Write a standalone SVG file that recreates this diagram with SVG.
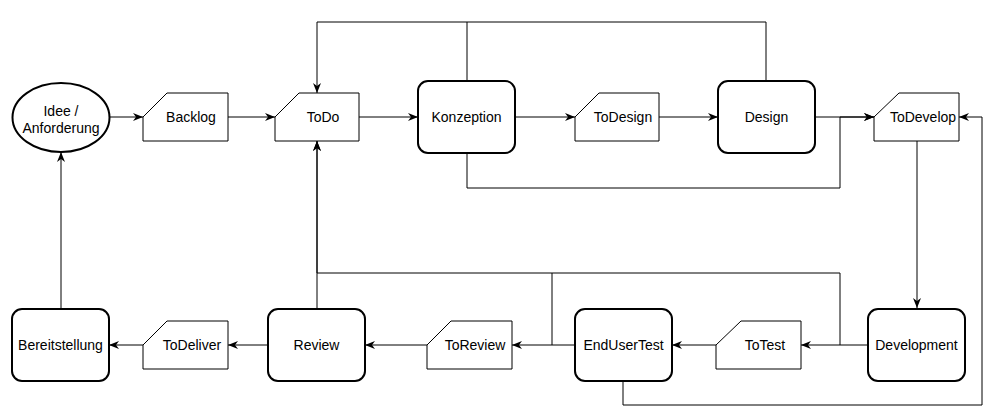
<svg xmlns="http://www.w3.org/2000/svg" width="991" height="413" viewBox="0 0 991 413">
<style>
text{font-family:"Liberation Sans",Arial,Helvetica,sans-serif;font-size:14px;fill:#000;text-anchor:middle}
.proc{fill:#fff;stroke:#000;stroke-width:2}
.card{fill:#fff;stroke:#000;stroke-width:1}
.edge{fill:none;stroke:#000;stroke-width:1}
.arr{marker-end:url(#a)}
</style>
<defs>
<marker id="a" viewBox="0 0 10 8" refX="10" refY="4" markerWidth="10" markerHeight="8" markerUnits="userSpaceOnUse" orient="auto">
<path d="M0,0 L10,4 L0,8 L3,4 z" fill="#000"/>
</marker>
</defs>
<rect width="991" height="413" fill="#fff"/>
<g id="connectors">
<path class="edge arr" d="M109.5,117 H143"/>
<path class="edge arr" d="M228,117 H275"/>
<path class="edge arr" d="M359,117 H418"/>
<path class="edge arr" d="M515,117 H575"/>
<path class="edge arr" d="M659,117 H718"/>
<path class="edge arr" d="M815,117 H874"/>
<path class="edge arr" d="M467,153 V188 H840 V117 H874"/>
<path class="edge arr" d="M467,80 V22 H317 V93"/>
<path class="edge" d="M766,80 V22 H467"/>
<path class="edge arr" d="M917,141 V308"/>
<path class="edge arr" d="M868,345 H801"/>
<path class="edge arr" d="M840,345 V273 H317 V141"/>
<path class="edge arr" d="M716,345 H672"/>
<path class="edge arr" d="M575,345 H512"/>
<path class="edge" d="M552,345 V273"/>
<path class="edge arr" d="M623,382 V405 H982 V117 H959"/>
<path class="edge arr" d="M427,345 H365"/>
<path class="edge arr" d="M317,308 V141"/>
<path class="edge arr" d="M268,345 H228"/>
<path class="edge arr" d="M143,345 H109"/>
<path class="edge arr" d="M61,308 V152"/>
</g>
<g id="idee">
<ellipse class="proc" cx="61" cy="117.5" rx="48.5" ry="34.5"/>
<text x="61" y="116">Idee /</text>
<text x="61" y="133">Anforderung</text>
</g>
<g id="backlog">
<path class="card" d="M167,93 H228 V141 H143 V117 Z"/>
<text x="191" y="122">Backlog</text>
</g>
<g id="todo">
<path class="card" d="M299,93 H359 V141 H275 V117 Z"/>
<text x="323" y="122">ToDo</text>
</g>
<g id="konzeption">
<rect class="proc" x="418" y="81" width="97" height="72" rx="10"/>
<text x="466.5" y="122">Konzeption</text>
</g>
<g id="todesign">
<path class="card" d="M599,93 H659 V141 H575 V117 Z"/>
<text x="623" y="122">ToDesign</text>
</g>
<g id="design">
<rect class="proc" x="718" y="81" width="97" height="72" rx="10"/>
<text x="766.5" y="122">Design</text>
</g>
<g id="todevelop">
<path class="card" d="M899,93 H959 V141 H874 V117 Z"/>
<text x="923" y="122">ToDevelop</text>
</g>
<g id="development">
<rect class="proc" x="868" y="309" width="97" height="72" rx="10"/>
<text x="916.5" y="350">Development</text>
</g>
<g id="totest">
<path class="card" d="M741,321 H801 V369 H716 V345 Z"/>
<text x="765" y="350">ToTest</text>
</g>
<g id="endusertest">
<rect class="proc" x="575" y="309" width="97" height="72" rx="10"/>
<text x="623.5" y="350">EndUserTest</text>
</g>
<g id="toreview">
<path class="card" d="M451,321 H512 V369 H427 V345 Z"/>
<text x="475" y="350">ToReview</text>
</g>
<g id="review">
<rect class="proc" x="268" y="309" width="97" height="72" rx="10"/>
<text x="316.5" y="350">Review</text>
</g>
<g id="todeliver">
<path class="card" d="M167,321 H228 V369 H143 V345 Z"/>
<text x="192" y="350">ToDeliver</text>
</g>
<g id="bereitstellung">
<rect class="proc" x="12" y="309" width="97" height="72" rx="10"/>
<text x="60.5" y="350">Bereitstellung</text>
</g>
</svg>
